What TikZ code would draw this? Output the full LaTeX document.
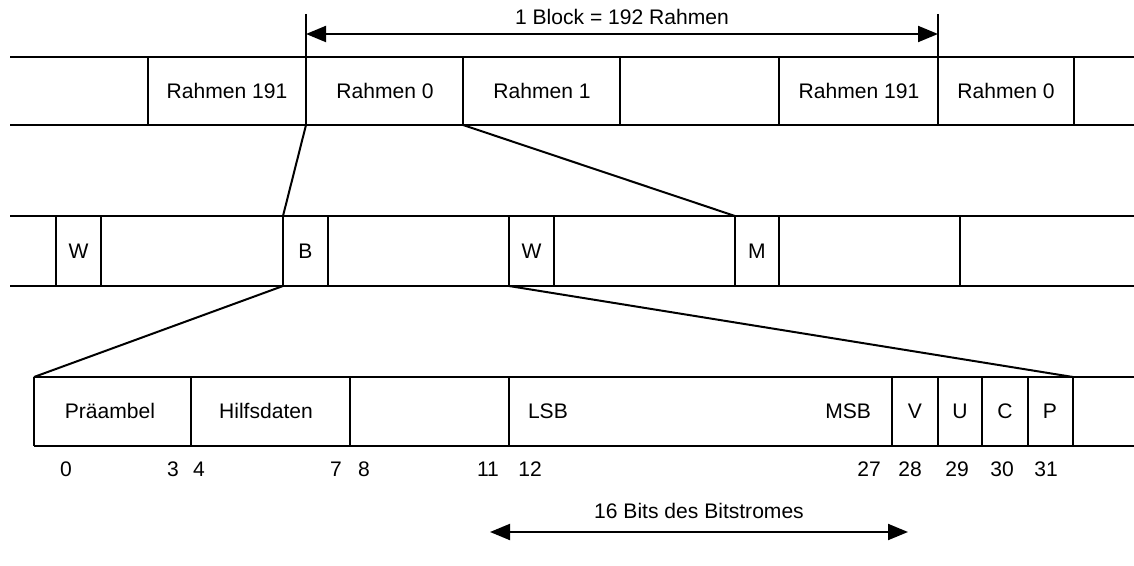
\documentclass[tikz,border=0pt]{standalone}
\usepackage{fontspec}
\setmainfont{Liberation Sans}
\usetikzlibrary{arrows.meta}

\begin{document}
\begin{tikzpicture}[x=0.75pt, y=-0.75pt, line width=1.5pt,
    lbl/.style={font=\fontsize{15.8}{18}\selectfont, inner sep=0pt},
    span/.style={{Triangle[length=15pt,width=12pt]}-{Triangle[length=15pt,width=12pt]}}]
    \useasboundingbox (0,0) rectangle (1134,566);
    % Rahmen
    \draw (10,57) -- (1134,57) (10,125) -- (1134,125);
    \foreach \x in {148,463,620,779,1074} \draw (\x,57) -- (\x,125);
    \draw (306,14) -- (306,125);
    \draw (938,14) -- (938,125);
    \node[lbl] (r191a) at (227,91) {Rahmen 191};
    \node[lbl] (r0a) at (385,91) {Rahmen 0};
    \node[lbl] (r1) at (542,91) {Rahmen 1};
    \node[lbl] (r191b) at (859,91) {Rahmen 191};
    \node[lbl] (r0b) at (1006,91) {Rahmen 0};
    \coordinate (blk-l) at (306,34);
    \coordinate (blk-r) at (938,34);
    \draw[span] (blk-l) -- (blk-r);
    \node[lbl] (blk) at (622,17) {1 Block = 192 Rahmen};
    \coordinate (r0-sw) at (306,125);
    \coordinate (r0-se) at (463,125);
    % Subrahmen
    \draw (10,216) -- (1134,216) (10,286) -- (1134,286);
    \foreach \x in {56,101,283,328,509,554,735,779,960} \draw (\x,216) -- (\x,286);
    \node[lbl] (w1) at (78.5,251) {W};
    \node[lbl] (b) at (305.5,251) {B};
    \node[lbl] (w2) at (531.5,251) {W};
    \node[lbl] (m) at (757,251) {M};
    \coordinate (b-nw) at (283,216);
    \coordinate (m-nw) at (735,216);
    \coordinate (b-sw) at (283,286);
    \coordinate (w2-sw) at (509,286);
    \draw (r0-sw) -- (b-nw);
    \draw (r0-se) -- (m-nw);
    % Bits
    \draw (34,377) -- (1134,377) (34,446) -- (1134,446);
    \foreach \x in {34,191,350,509,892,938,982,1028,1073} \draw (\x,377) -- (\x,446);
    \node[lbl] (pre) at (110,411) {Präambel};
    \node[lbl] (aux) at (266,411) {Hilfsdaten};
    \node[lbl, anchor=west] (lsb) at (527,411) {LSB};
    \node[lbl, anchor=east] (msb) at (872,411) {MSB};
    \node[lbl] (v) at (915,411) {V};
    \node[lbl] (u) at (960,411) {U};
    \node[lbl] (c) at (1005,411) {C};
    \node[lbl] (p) at (1050,411) {P};
    \coordinate (pre-nw) at (34,377);
    \coordinate (p-ne) at (1073,377);
    \draw (b-sw) -- (pre-nw);
    \draw (w2-sw) -- (p-ne);
    % Bitnummern
    \foreach \n/\x in {0/66, 3/173, 4/199, 7/336, 8/364, 11/488, 12/530,
                       27/869, 28/910, 29/957, 30/1002, 31/1046}
      \node[lbl] (n\n) at (\x,469) {\n};
    \coordinate (bits-l) at (490,532);
    \coordinate (bits-r) at (908,532);
    \draw[span] (bits-l) -- (bits-r);
    \node[lbl] (bits) at (699,511) {16 Bits des Bitstromes};
\end{tikzpicture}
\end{document}
